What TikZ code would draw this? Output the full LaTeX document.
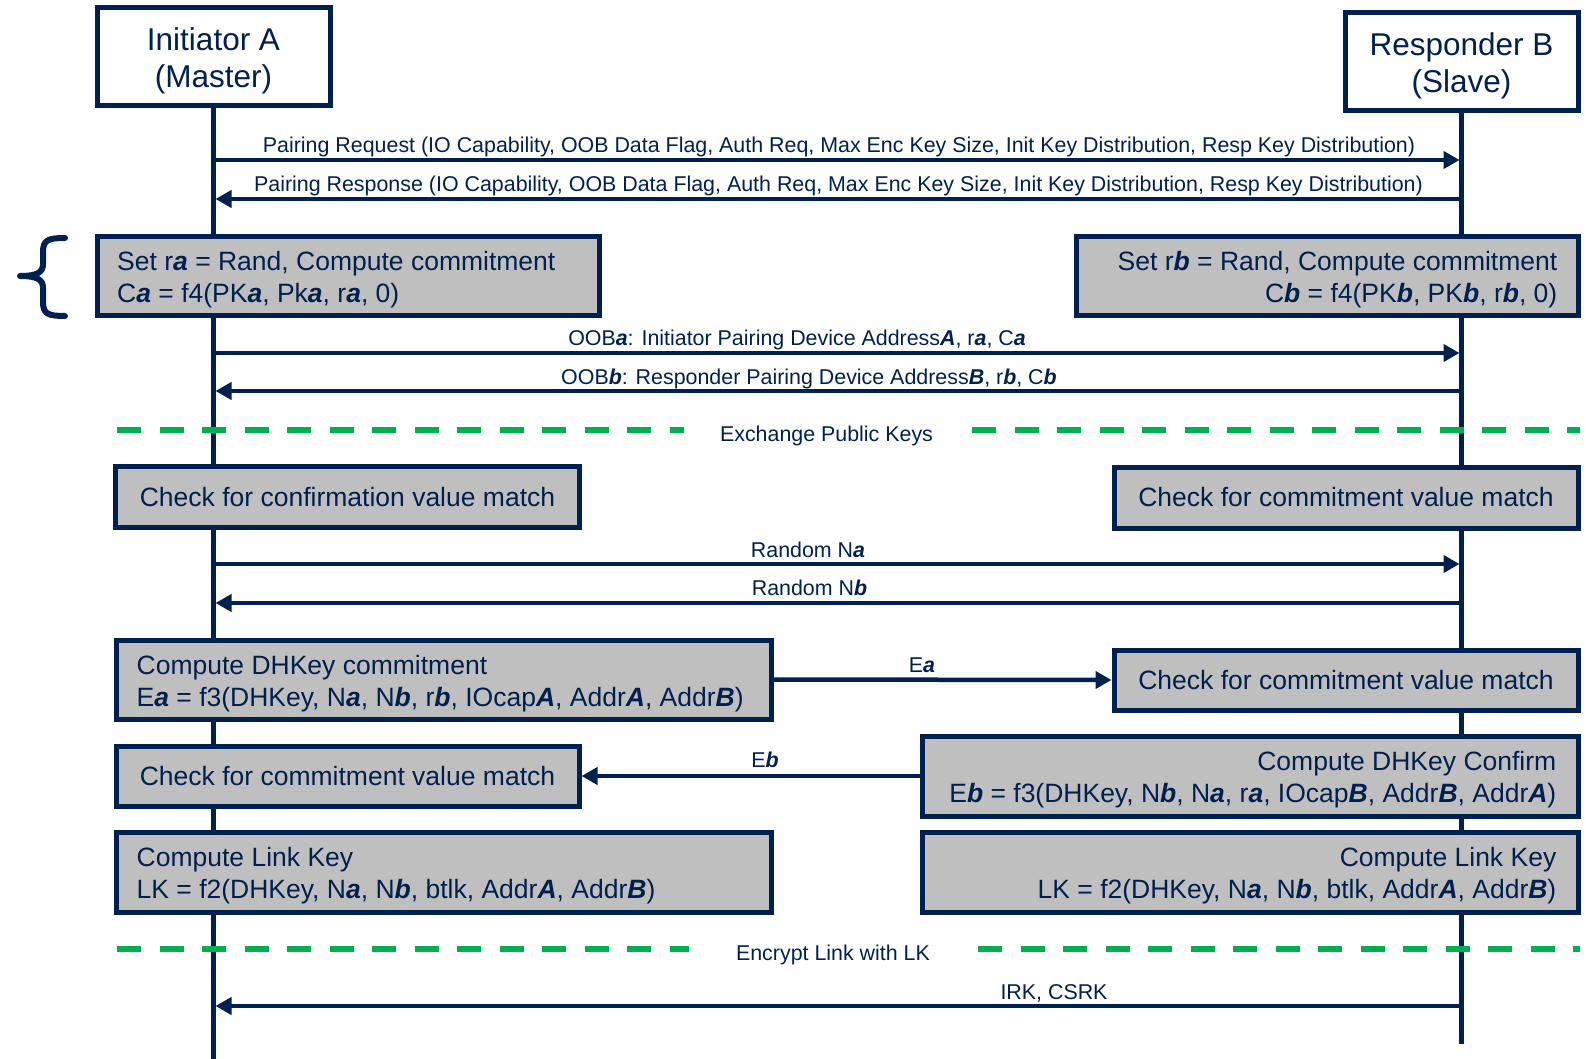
\documentclass[tikz,border=0pt]{standalone}
\usepackage{fontspec}
\setmainfont{Liberation Sans}
\usetikzlibrary{arrows.meta}
\definecolor{navy}{RGB}{0,32,80}
\definecolor{boxgray}{RGB}{191,191,191}
\definecolor{sepgreen}{RGB}{0,176,80}
\newcommand{\bi}[1]{\textbf{\textit{#1}}}
\begin{document}
\begin{tikzpicture}[x=1pt,y=-1pt,
  every node/.style={text=navy},
  party/.style={draw=navy, fill=white, line width=5pt, minimum width=233pt,
    minimum height=98pt, align=center, inner sep=0pt,
    font=\fontsize{31.5}{37}\selectfont},
  act/.style={draw=navy, fill=boxgray, line width=5pt, inner sep=0pt},
  actfont/.style={font=\fontsize{26.5}{32}\selectfont},
  acttext/.style={inner sep=0pt, actfont},
  life/.style={draw=navy, line width=5pt},
  msg/.style={draw=navy, line width=4.5pt, -{Triangle[length=16pt,width=17pt]},
    shorten >=2pt},
  lbl/.style={anchor=base, inner sep=0pt, font=\fontsize{21.4}{25}\selectfont},
  phase/.style={draw=sepgreen, line width=5.5pt, dash pattern=on 24pt off 18.5pt},
  bracket/.style={draw=navy, line width=6pt, line cap=round, line join=round}
]
\useasboundingbox (0,0) rectangle (1586,1059);

% participants
\node[party] (hdrA) at (213.5,57) {\rule{0pt}{30pt}Initiator A\\(Master)};
\node[party] (hdrB) at (1461.5,62) {\rule{0pt}{30pt}Responder B\\(Slave)};

% lifelines
\coordinate (endA) at (213.5,1059);
\coordinate (endB) at (1461.5,1044);
\draw[life] (hdrA.south) -- (endA);
\draw[life] (hdrB.south) -- (endB);

% message rows
\coordinate (yReq) at (0,160);
\coordinate (yRsp) at (0,199);
\coordinate (yOa) at (0,353);
\coordinate (yOb) at (0,391);
\coordinate (yNa) at (0,564);
\coordinate (yNb) at (0,603);
\coordinate (yIrk) at (0,1006);

% phase separators
\coordinate (p1a) at (117,430);
\coordinate (p1b) at (684,430);
\coordinate (p1c) at (972,430);
\coordinate (p1d) at (1580,430);
\coordinate (p2a) at (117,949);
\coordinate (p2b) at (689,949);
\coordinate (p2c) at (978,949);
\coordinate (p2d) at (1580,949);
\draw[phase] (p1a) -- (p1b);
\draw[phase] (p1c) -- (p1d);
\draw[phase] (p2a) -- (p2b);
\draw[phase] (p2c) -- (p2d);
\node[lbl] (tPk) at (826.5,441) {Exchange Public Keys};
\node[lbl] (tEnc) at (833,960) {Encrypt Link with LK};

% messages between lifelines
\draw[msg] (hdrA |- yReq) -- (hdrB |- yReq);
\draw[msg] (hdrB |- yRsp) -- (hdrA |- yRsp);
\draw[msg] (hdrA |- yOa) -- (hdrB |- yOa);
\draw[msg] (hdrB |- yOb) -- (hdrA |- yOb);
\draw[msg] (hdrA |- yNa) -- (hdrB |- yNa);
\draw[msg] (hdrB |- yNb) -- (hdrA |- yNb);
\draw[msg] (hdrB |- yIrk) -- (hdrA |- yIrk);

\node[lbl] (tReq) at (839,153) {Pairing Request (IO Capability, OOB Data Flag, Auth Req, Max Enc Key Size, Init Key Distribution, Resp Key Distribution)};
\node[lbl] (tRsp) at (838.5,192) {Pairing Response (IO Capability, OOB Data Flag, Auth Req, Max Enc Key Size, Init Key Distribution, Resp Key Distribution)};
\node[lbl] (tOa) at (797,345) {OOB\bi{a}: Initiator Pairing Device Address\bi{A}, r\bi{a}, C\bi{a}};
\node[lbl] (tOb) at (809,384) {OOB\bi{b}: Responder Pairing Device Address\bi{B}, r\bi{b}, C\bi{b}};
\node[lbl] (tNa) at (808,557) {Random N\bi{a}};
\node[lbl] (tNb) at (809.5,595) {Random N\bi{b}};
\node[lbl] (tIrk) at (1054,999) {IRK, CSRK};

% bracket beside the commitment step
\draw[bracket] (65,238) .. controls (48,238) and (43,240) .. (43,252) -- (43,264)
  .. controls (43,272) and (38,276) .. (20,276)
  .. controls (38,276) and (43,280) .. (43,288) -- (43,302)
  .. controls (43,314) and (48,316) .. (65,316);

% commitment step
\node[act, minimum width=502pt, minimum height=78pt] (setA) at (348,276) {};
\node[acttext, anchor=west, align=left] (setAt) at ([xshift=22.5pt,yshift=-4pt]setA.west)
  {Set r\bi{a} = Rand, Compute commitment\\C\bi{a} = f4(PK\bi{a}, Pk\bi{a}, r\bi{a}, 0)};
\node[act, minimum width=502pt, minimum height=78pt] (setB) at (1327,276) {};
\node[acttext, anchor=east, align=right] (setBt) at ([xshift=-23pt,yshift=-4pt]setB.east)
  {Set r\bi{b} = Rand, Compute commitment\\C\bi{b} = f4(PK\bi{b}, PK\bi{b}, r\bi{b}, 0)};

% confirmation checks
\node[act, actfont, minimum width=464pt, minimum height=61pt] (cfA) at (347.5,497)
  {Check for confirmation value match};
\node[act, actfont, minimum width=464pt, minimum height=61pt] (cmB1) at (1346,497.5)
  {Check for commitment value match};

% DHKey checks
\node[act, minimum width=655pt, minimum height=79pt] (dhA) at (443.5,679.5) {};
\node[acttext, anchor=west, align=left] (dhAt) at ([xshift=23pt,yshift=-4pt]dhA.west)
  {Compute DHKey commitment\\E\bi{a} = f3(DHKey, N\bi{a}, N\bi{b}, r\bi{b}, IOcap\bi{A}, Addr\bi{A}, Addr\bi{B})};
\node[act, actfont, minimum width=464pt, minimum height=60pt] (cmB2) at (1346,680)
  {Check for commitment value match};
\node[act, actfont, minimum width=463pt, minimum height=60pt] (cmA) at (347.5,776)
  {Check for commitment value match};
\node[act, minimum width=656pt, minimum height=80pt] (dhB) at (1250,776) {};
\node[acttext, anchor=east, align=right] (dhBt) at ([xshift=-24pt,yshift=-4pt]dhB.east)
  {Compute DHKey Confirm\\E\bi{b} = f3(DHKey, N\bi{b}, N\bi{a}, r\bi{a}, IOcap\bi{B}, Addr\bi{B}, Addr\bi{A})};

\draw[msg, shorten >=0pt] (dhA.east) -- (cmB2.west);
\draw[msg, shorten >=0pt] (dhB.west) -- (cmA.east);
\node[lbl] (tEa) at (922,672) {E\bi{a}};
\node[lbl] (tEb) at (765,767) {E\bi{b}};

% link keys
\node[act, minimum width=655pt, minimum height=80pt] (lkA) at (443.5,872) {};
\node[acttext, anchor=west, align=left] (lkAt) at ([xshift=23pt,yshift=-4pt]lkA.west)
  {Compute Link Key\\LK = f2(DHKey, N\bi{a}, N\bi{b}, btlk, Addr\bi{A}, Addr\bi{B})};
\node[act, minimum width=656pt, minimum height=80pt] (lkB) at (1250,872) {};
\node[acttext, anchor=east, align=right] (lkBt) at ([xshift=-24pt,yshift=-4pt]lkB.east)
  {Compute Link Key\\LK = f2(DHKey, N\bi{a}, N\bi{b}, btlk, Addr\bi{A}, Addr\bi{B})};
\end{tikzpicture}
\end{document}
